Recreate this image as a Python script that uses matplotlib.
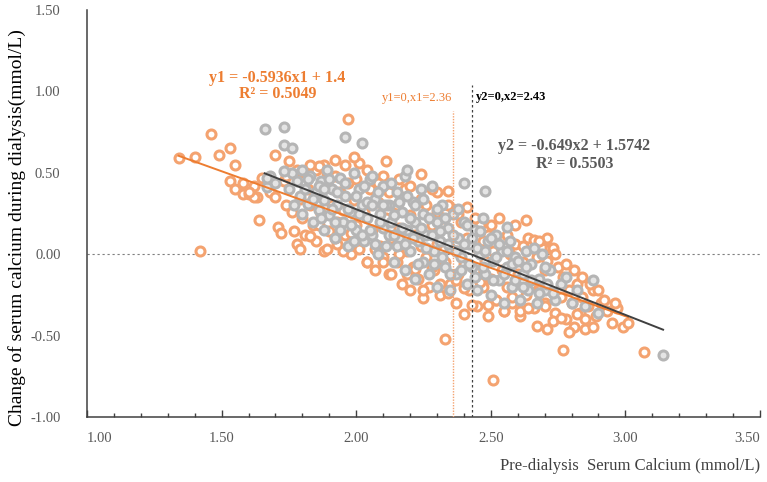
import matplotlib
matplotlib.use("Agg")
import matplotlib.pyplot as plt
from matplotlib.ticker import MultipleLocator, FixedLocator

# ---------------- data ----------------
orange_x = [1.34, 1.40, 1.42, 1.46, 1.49, 1.53, 1.53, 1.55, 1.55, 1.58, 1.58, 1.60, 1.62, 1.63, 1.64, 1.65,
            1.67, 1.68, 1.70, 1.71, 1.72, 1.73, 1.74, 1.75, 1.76, 1.77, 1.78, 1.79, 1.79, 1.80, 1.80,
            1.81, 1.82, 1.83, 1.84, 1.85, 1.85, 1.86, 1.87, 1.88, 1.88, 1.89, 1.90, 1.91, 1.92, 1.93, 1.93, 1.94, 1.95,
            1.96, 1.97, 1.97, 1.98, 1.99, 2.00, 2.01, 2.02, 2.03, 2.04, 2.05, 2.06, 2.07, 2.08, 2.09, 2.10, 2.10,
            2.11, 2.12, 2.13, 2.11, 2.15, 2.15, 2.16, 2.17, 2.18, 2.19, 2.20, 2.20, 2.21, 2.22, 2.24, 2.23, 2.24, 2.25,
            2.26, 2.26, 2.27, 2.28, 2.29, 2.30, 2.30, 2.31, 2.32, 2.33, 2.33, 2.34, 2.35, 2.36, 2.37, 2.37, 2.38, 2.39, 2.40, 2.40,
            2.41, 2.42, 2.41, 2.44, 2.45, 2.45, 2.46, 2.47, 2.48, 2.49, 2.49, 2.50, 2.51, 2.51, 2.52, 2.53, 2.54, 2.55, 2.55,
            2.56, 2.57, 2.58, 2.59, 2.60, 2.61, 2.63, 2.62, 2.63, 2.64, 2.65, 2.66, 2.67, 2.68, 2.69, 2.70, 2.70,
            2.71, 2.71, 2.72, 2.73, 2.74, 2.75, 2.76, 2.77, 2.77, 2.78, 2.79, 2.80, 2.81, 2.82, 2.83, 2.84, 2.85,
            2.86, 2.88, 2.89, 2.91, 2.93, 2.95, 2.97, 2.99, 3.01, 3.07,
            1.83, 1.86, 1.89, 1.92, 1.95, 1.98, 2.01, 2.04, 2.07, 2.10, 2.13, 2.16, 2.19, 2.22, 2.25, 2.28, 2.31, 2.34,
            2.37, 2.40, 2.43, 2.46, 2.49, 2.52, 2.55, 2.58, 2.61, 2.64, 2.67, 2.70, 2.73, 2.76, 2.79, 2.82, 2.85, 2.88,
            2.44, 2.47, 2.50, 2.53, 2.56, 2.59, 2.62, 2.66, 2.68, 2.71, 2.74, 2.78, 2.81, 2.84, 2.87, 2.90, 2.92, 2.96,
            2.30, 2.34, 2.38, 2.28, 2.24, 2.20, 2.16, 2.12, 2.08, 2.04, 2.00, 1.96, 1.92, 1.89, 1.86, 1.83, 1.78, 1.74,
            1.70, 1.99, 1.62, 1.60]
orange_y = [0.59, 0.60, 0.02, 0.74, 0.61, 0.65, 0.45, 0.55, 0.40, 0.44, 0.37, 0.37, 0.42, 0.35, 0.21, 0.47,
            0.43, 0.38, 0.35, 0.17, 0.13, 0.45, 0.30, 0.57, 0.26, 0.14, 0.06, 0.03, 0.34, 0.22, 0.45,
            0.12, 0.40, 0.30, 0.18, 0.52, 0.08, 0.36, 0.25, 0.55, 0.02, 0.44, 0.14, 0.30, 0.48, 0.20, 0.06, 0.38, 0.27,
            0.12, 0.83, 0.44, 0.00, 0.33, 0.18, 0.56, 0.08, 0.26, -0.05, 0.40, 0.15, -0.10, 0.32, 0.05, 0.48, -0.02,
            0.22, -0.12, 0.10, 0.57, 0.30, -0.05, 0.16, -0.18, 0.40, 0.02, 0.24, -0.22, -0.08, 0.12, 0.49, -0.15, 0.05, -0.27,
            0.30, -0.02, -0.20, 0.18, -0.10, 0.38, 0.06, -0.25, 0.22, -0.52, -0.05, 0.39, -0.18, 0.28, -0.30, 0.02, -0.12, 0.20, -0.37, -0.06,
            0.10, -0.22, 0.29, -0.10, -0.32, 0.04, 0.18, -0.20, -0.04, -0.38, 0.12, -0.15, -0.77, 0.02, -0.28, 0.08, -0.10, -0.35, 0.10,
            -0.20, 0.00, -0.30, 0.06, -0.12, -0.38, 0.21, -0.05, -0.25, 0.10, -0.18, -0.33, -0.02, -0.22, 0.04, -0.30, -0.10,
            -0.46, 0.10, 0.04, 0.04, -0.36, -0.08, -0.26, -0.59, -0.14, -0.40, -0.22, -0.30, -0.45, -0.18, -0.36, -0.26, -0.40,
            -0.32, -0.22, -0.38, -0.30, -0.35, -0.42, -0.33, -0.45, -0.42, -0.60,
            0.11, 0.18, 0.03, 0.10, 0.02, 0.13, 0.03, -0.05, 0.03, -0.05, -0.12, 0.00, -0.12, -0.09, -0.22, -0.08, -0.18, -0.24,
            -0.16, -0.21, -0.31, -0.17, -0.31, -0.28, -0.35, -0.26, -0.35, -0.33, -0.44, -0.32, -0.41, -0.39, -0.48, -0.37, -0.46, -0.45,
            0.22, 0.08, 0.18, 0.22, 0.12, 0.18, 0.05, 0.09, 0.08, -0.04, 0.00, -0.06, -0.10, -0.14, -0.18, -0.22, -0.28, -0.30,
            0.26, 0.30, 0.25, 0.40, 0.34, 0.42, 0.46, 0.38, 0.44, 0.52, 0.46, 0.55, 0.58, 0.50, 0.54, 0.55, 0.52, 0.48,
            0.61, 0.60, 0.35, 0.38]

grey_x = [1.66, 1.68, 1.70, 1.73, 1.73, 1.76, 1.75, 1.76, 1.77, 1.78, 1.79, 1.80, 1.80,
          1.81, 1.82, 1.83, 1.84, 1.85, 1.86, 1.87, 1.88, 1.88, 1.89, 1.90, 1.91, 1.92, 1.93, 1.94, 1.95,
          1.96, 1.96, 1.97, 1.98, 1.99, 2.00, 2.01, 2.02, 2.02, 2.03, 2.04, 2.05, 2.06, 2.07, 2.08, 2.09, 2.10, 2.10,
          2.11, 2.12, 2.13, 2.14, 2.15, 2.16, 2.17, 2.18, 2.18, 2.19, 2.19, 2.20, 2.21, 2.22, 2.22, 2.23, 2.24, 2.25, 2.25,
          2.26, 2.27, 2.28, 2.29, 2.30, 2.30, 2.31, 2.32, 2.33, 2.34, 2.35, 2.35, 2.36, 2.37, 2.38, 2.39, 2.40, 2.40,
          2.41, 2.42, 2.43, 2.44, 2.45, 2.46, 2.47, 2.48, 2.48, 2.49, 2.50, 2.51, 2.52, 2.53, 2.54, 2.55,
          2.56, 2.57, 2.58, 2.59, 2.56, 2.61, 2.62, 2.63, 2.64, 2.65, 2.67, 2.68, 2.69, 2.70,
          2.72, 2.74, 2.76, 2.78, 2.80, 2.82, 2.85, 2.88, 2.90, 3.14,
          1.82, 1.84, 1.86, 1.87, 1.90, 1.91, 1.93, 1.94, 1.96, 1.97, 1.98, 2.00, 2.01, 2.03, 2.04, 2.05, 2.06, 2.07,
          2.08, 2.09, 2.11, 2.12, 2.13, 2.14, 2.15, 2.16, 2.17, 2.18, 2.19, 2.20, 2.21, 2.22, 2.23, 2.24, 2.25, 2.26,
          2.27, 2.28, 2.29, 2.30, 2.31, 2.32, 2.33, 2.34, 2.35, 2.36, 2.37, 2.38, 2.39, 2.40, 2.41, 2.42, 2.43, 2.44,
          2.45, 2.46, 2.47, 2.48, 2.50, 2.51, 2.52, 2.53, 2.55, 2.56, 2.58, 2.59, 2.60, 2.62, 2.63, 2.65, 2.66, 2.68,
          2.70, 2.71, 2.73, 1.88, 1.92, 1.99, 2.02, 2.06, 2.10, 2.14,
          1.67, 1.73, 1.67]
grey_y = [0.77, 0.48, 0.44, 0.78, 0.67, 0.65, 0.40, 0.50, 0.30, 0.45, 0.36, 0.52, 0.25,
          0.40, 0.31, 0.48, 0.20, 0.38, 0.27, 0.45, 0.15, 0.33, 0.52, 0.24, 0.40, 0.10, 0.30, 0.47, 0.20,
          0.36, 0.72, 0.05, 0.26, 0.50, 0.15, 0.40, 0.68, 0.30, 0.08, 0.22, 0.46, 0.12, 0.34, 0.00, 0.25, 0.42, 0.16,
          0.05, 0.30, 0.20, -0.05, 0.38, 0.10, 0.26, -0.10, 0.48, 0.15, 0.52, 0.02, 0.32, -0.15, 0.20, 0.08, 0.40, -0.05, 0.25,
          0.12, -0.12, 0.42, 0.02, 0.20, -0.20, 0.08, 0.30, -0.08, 0.16, -0.22, 0.04, 0.25, -0.12, 0.10, -0.02, 0.44, 0.20,
          -0.18, 0.06, -0.08, 0.15, -0.22, 0.00, 0.22, -0.12, 0.39, 0.08, -0.25, -0.04, 0.12, -0.16, 0.02, -0.30,
          -0.08, 0.08, -0.20, -0.02, 0.17, -0.28, -0.12, 0.02, -0.22, -0.06, -0.30, -0.15, 0.00, -0.22,
          -0.10, -0.28, -0.18, -0.14, -0.30, -0.22, -0.32, -0.16, -0.36, -0.62,
          0.46, 0.34, 0.42, 0.22, 0.46, 0.28, 0.38, 0.15, 0.44, 0.28, 0.18, 0.36, 0.25, 0.42, 0.32, 0.15, 0.30, 0.06,
          0.38, 0.20, 0.30, 0.12, 0.44, 0.24, 0.05, 0.32, 0.16, 0.06, 0.36, 0.22, 0.10, 0.30, -0.06, 0.16, 0.34, 0.04,
          0.22, 0.12, -0.06, 0.28, 0.14, -0.02, 0.22, 0.06, -0.12, 0.12, 0.02, 0.28, -0.10, 0.06, 0.18, -0.06, 0.10, -0.14,
          0.04, 0.14, -0.08, 0.02, 0.10, -0.16, -0.02, 0.06, -0.12, 0.02, -0.06, -0.16, -0.04, -0.20, -0.08, -0.16, 0.04, -0.24,
          -0.08, -0.18, -0.24, 0.40, 0.20, 0.08, 0.12, 0.48, 0.30, 0.12,
          0.41, 0.51, 0.47]

# trendlines (Excel): y1 = -0.5936 x1 + 1.4 ; y2 = -0.649 x2 + 1.5742
fit1_slope, fit1_icpt = -0.5936, 1.4
fit2_slope, fit2_icpt = -0.649, 1.5742
fit1_xrange = [1.34, 3.01]
fit2_xrange = [1.66, 3.14]
root1, root2 = 2.36, 2.43

xticks = [1.00, 1.50, 2.00, 2.50, 3.00, 3.50]
yticks = [-1.00, -0.50, 0.00, 0.50, 1.00, 1.50]

# ---------------- style ----------------
SERIF = ["Liberation Serif", "DejaVu Serif"]
ORANGE = "#ED7D31"
ORANGE_PT = "#F4A370"
GREY_EDGE = "#B5B5B5"
GREY_FACE = "#E4E4E4"

fig = plt.figure(figsize=(7.67, 4.82), dpi=100)
ax = fig.add_axes([87/767, 1-417/482, (760-87)/767, (417-10)/482])

ax.scatter(orange_x, orange_y, s=42, facecolor="white", edgecolor=ORANGE_PT, linewidth=2.2, zorder=3)
ax.scatter(grey_x, grey_y, s=42, facecolor=GREY_FACE, edgecolor=GREY_EDGE, linewidth=2.2, zorder=4)

ax.plot(fit1_xrange, [fit1_slope*v + fit1_icpt for v in fit1_xrange], color=ORANGE, lw=1.4, zorder=5)
ax.plot(fit2_xrange, [fit2_slope*v + fit2_icpt for v in fit2_xrange], color="#404040", lw=1.4, zorder=6)

ax.axhline(0, color="#7F7F7F", lw=0.8, ls=(0, (2, 2.5)), zorder=2)
ax.plot([root1, root1], [-1.0, 0.88], color=ORANGE_PT, lw=1.0, ls=(0, (1, 1)), zorder=7)
ax.plot([root2, root2], [-1.0, 1.04], color="#404040", lw=0.9, ls=(0, (2, 2)), zorder=7)

ax.set_xlim(1.0, 3.5)
ax.set_ylim(-1.0, 1.5)

for s in ["top", "right"]:
    ax.spines[s].set_visible(False)
for s in ["left", "bottom"]:
    ax.spines[s].set_color("#404040")
    ax.spines[s].set_linewidth(1.1)

ax.xaxis.set_major_locator(FixedLocator(xticks))
ax.xaxis.set_minor_locator(MultipleLocator(0.1))
ax.set_yticks(yticks)
ax.set_xticklabels([f"{v:.2f}" for v in xticks])
ax.set_yticklabels([f"{v:.2f}" for v in yticks])
ax.tick_params(axis="x", which="major", direction="in", length=5, width=1, color="#404040", pad=11,
               labelsize=10.5, labelcolor="#595959")
ax.tick_params(axis="x", which="minor", direction="in", length=3, width=1, color="#404040")
ax.tick_params(axis="y", which="major", length=0, pad=19, labelsize=10.5, labelcolor="#595959")
for lab in ax.get_xticklabels() + ax.get_yticklabels():
    lab.set_fontfamily(SERIF)
xl = ax.get_xticklabels()
xl[0].set_ha("left")
xl[-1].set_ha("right")

fig.text(17/767, 1-228/482, "Change of serum calcium during dialysis(mmol/L)", rotation=90,
         ha="center", va="center", fontsize=14, family=SERIF, color="#000000")
fig.text(760/767, 1-466/482, "Pre-dialysis  Serum Calcium (mmol/L)", ha="right", va="center",
         fontsize=12, family=SERIF, color="#404040")

ax.text(1.707, 1.08, "y1 = -0.5936x1 + 1.4", ha="center", va="center", fontsize=11.5,
        fontweight="bold", family=SERIF, color=ORANGE)
ax.text(1.707, 0.983, "R² = 0.5049", ha="center", va="center", fontsize=11.5,
        fontweight="bold", family=SERIF, color=ORANGE)
ax.text(2.81, 0.663, "y2 = -0.649x2 + 1.5742", ha="center", va="center", fontsize=11.5,
        fontweight="bold", family=SERIF, color="#595959")
ax.text(2.81, 0.553, "R² = 0.5503", ha="center", va="center", fontsize=11.5,
        fontweight="bold", family=SERIF, color="#595959")
ax.text(2.355, 0.92, "y1=0,x1=2.36", ha="right", va="bottom", fontsize=9,
        family=SERIF, color=ORANGE)
ax.text(2.445, 0.93, "y2=0,x2=2.43", ha="left", va="bottom", fontsize=9,
        fontweight="bold", family=SERIF, color="#000000")

fig.savefig("out.png", dpi=100, facecolor="white")
